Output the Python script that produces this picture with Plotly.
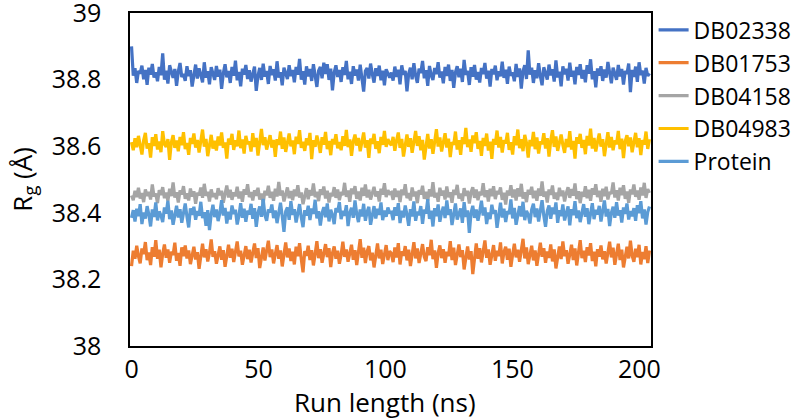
import numpy as np
import plotly.graph_objects as go

names = ["DB02338", "DB01753", "DB04158", "DB04983", "Protein"]
colors = ["#4472C4", "#ED7D31", "#A5A5A5", "#FFC000", "#5B9BD5"]

db02338 = [
38.900, 38.812, 38.834, 38.790, 38.826, 38.818, 38.842, 38.801, 38.829, 38.784,
38.836, 38.815, 38.847, 38.806, 38.822, 38.795, 38.838, 38.813, 38.879, 38.800,
38.827, 38.788, 38.843, 38.819, 38.805, 38.832, 38.781, 38.824, 38.850, 38.808,
38.817, 38.796, 38.840, 38.811, 38.828, 38.779, 38.821, 38.845, 38.803, 38.834,
38.814, 38.792, 38.852, 38.806, 38.825, 38.786, 38.837, 38.816, 38.799, 38.841,
38.809, 38.830, 38.772, 38.819, 38.846, 38.807, 38.826, 38.790, 38.838, 38.812,
38.857, 38.798, 38.823, 38.780, 38.833, 38.815, 38.844, 38.802, 38.828, 38.794,
38.818, 38.839, 38.766, 38.811, 38.835, 38.799, 38.848, 38.809, 38.826, 38.787,
38.841, 38.814, 38.831, 38.797, 38.855, 38.806, 38.822, 38.783, 38.836, 38.817,
38.802, 38.843, 38.811, 38.829, 38.792, 38.838, 38.815, 38.862, 38.800, 38.825,
38.785, 38.840, 38.810, 38.832, 38.796, 38.846, 38.813, 38.778, 38.827, 38.838,
38.804, 38.851, 38.817, 38.846, 38.799, 38.833, 38.768, 38.821, 38.843, 38.808,
38.829, 38.793, 38.837, 38.814, 38.856, 38.801, 38.824, 38.787, 38.840, 38.812,
38.830, 38.797, 38.845, 38.809, 38.764, 38.826, 38.835, 38.803, 38.848, 38.816,
38.791, 38.834, 38.811, 38.842, 38.798, 38.827, 38.783, 38.831, 38.818, 38.806,
38.821, 38.797, 38.839, 38.808, 38.830, 38.786, 38.843, 38.815, 38.826, 38.765,
38.818, 38.836, 38.801, 38.849, 38.812, 38.790, 38.833, 38.820, 38.856, 38.804,
38.828, 38.781, 38.841, 38.813, 38.799, 38.835, 38.817, 38.852, 38.806, 38.824,
38.789, 38.838, 38.811, 38.845, 38.796, 38.829, 38.775, 38.822, 38.840, 38.807,
38.833, 38.793, 38.859, 38.814, 38.826, 38.784, 38.837, 38.809, 38.844, 38.800,
38.823, 38.791, 38.835, 38.817, 38.850, 38.803, 38.827, 38.779, 38.832, 38.816,
38.842, 38.798, 38.825, 38.810, 38.854, 38.805, 38.830, 38.787, 38.839, 38.812,
38.821, 38.795, 38.847, 38.808, 38.834, 38.773, 38.826, 38.843, 38.802, 38.888,
38.815, 38.836, 38.790, 38.828, 38.804, 38.849, 38.811, 38.783, 38.837, 38.819,
38.800, 38.845, 38.813, 38.831, 38.794, 38.858, 38.807, 38.824, 38.780, 38.840,
38.816, 38.833, 38.797, 38.851, 38.809, 38.827, 38.786, 38.838, 38.814, 38.846,
38.803, 38.829, 38.792, 38.843, 38.818, 38.861, 38.801, 38.825, 38.777, 38.834,
38.812, 38.840, 38.796, 38.830, 38.806, 38.853, 38.815, 38.789, 38.836, 38.821,
38.799, 38.844, 38.810, 38.832, 38.785, 38.826, 38.817, 38.848, 38.762, 38.829,
38.808, 38.839, 38.793, 38.852, 38.814, 38.827, 38.788, 38.835, 38.811, 38.819]

db01753 = [
38.240, 38.286, 38.262, 38.301, 38.270, 38.248, 38.293, 38.276, 38.312, 38.258,
38.281, 38.243, 38.297, 38.268, 38.318, 38.262, 38.289, 38.236, 38.277, 38.305,
38.265, 38.290, 38.250, 38.283, 38.273, 38.310, 38.256, 38.279, 38.241, 38.296,
38.270, 38.302, 38.263, 38.287, 38.246, 38.274, 38.298, 38.260, 38.282, 38.232,
38.276, 38.307, 38.266, 38.291, 38.254, 38.280, 38.320, 38.268, 38.285, 38.247,
38.273, 38.299, 38.259, 38.288, 38.238, 38.277, 38.304, 38.265, 38.292, 38.252,
38.281, 38.314, 38.269, 38.286, 38.244, 38.275, 38.300, 38.261, 38.289, 38.251,
38.279, 38.308, 38.264, 38.294, 38.234, 38.272, 38.296, 38.257, 38.284, 38.316,
38.267, 38.290, 38.248, 38.278, 38.303, 38.262, 38.287, 38.239, 38.274, 38.311,
38.266, 38.293, 38.255, 38.283, 38.245, 38.298, 38.270, 38.309, 38.260, 38.221,
38.285, 38.271, 38.301, 38.258, 38.288, 38.242, 38.276, 38.315, 38.264, 38.291,
38.250, 38.281, 38.306, 38.267, 38.294, 38.237, 38.279, 38.299, 38.262, 38.286,
38.247, 38.274, 38.313, 38.268, 38.290, 38.253, 38.282, 38.304, 38.259, 38.288,
38.243, 38.277, 38.321, 38.265, 38.295, 38.249, 38.284, 38.300, 38.257, 38.280,
38.236, 38.272, 38.308, 38.263, 38.289, 38.246, 38.278, 38.303, 38.258, 38.285,
38.278, 38.252, 38.296, 38.266, 38.309, 38.245, 38.284, 38.271, 38.300, 38.257,
38.289, 38.240, 38.275, 38.312, 38.263, 38.293, 38.249, 38.281, 38.306, 38.268,
38.255, 38.297, 38.273, 38.319, 38.261, 38.287, 38.235, 38.279, 38.302, 38.264,
38.291, 38.250, 38.283, 38.270, 38.315, 38.258, 38.295, 38.243, 38.276, 38.305,
38.267, 38.288, 38.230, 38.274, 38.299, 38.260, 38.285, 38.216, 38.272, 38.308,
38.262, 38.294, 38.251, 38.280, 38.317, 38.265, 38.290, 38.244, 38.277, 38.303,
38.256, 38.286, 38.270, 38.311, 38.248, 38.282, 38.298, 38.259, 38.292, 38.238,
38.275, 38.307, 38.266, 38.289, 38.253, 38.283, 38.322, 38.263, 38.296, 38.246,
38.279, 38.301, 38.257, 38.287, 38.241, 38.273, 38.310, 38.268, 38.294, 38.250,
38.284, 38.265, 38.305, 38.254, 38.290, 38.233, 38.276, 38.299, 38.261, 38.314,
38.270, 38.288, 38.247, 38.281, 38.304, 38.258, 38.293, 38.242, 38.278, 38.318,
38.264, 38.286, 38.252, 38.297, 38.272, 38.309, 38.255, 38.283, 38.239, 38.291,
38.268, 38.302, 38.260, 38.285, 38.248, 38.277, 38.313, 38.266, 38.295, 38.244,
38.280, 38.307, 38.258, 38.289, 38.236, 38.274, 38.298, 38.263, 38.316, 38.271,
38.253, 38.292, 38.267, 38.304, 38.245, 38.282, 38.261, 38.300, 38.249, 38.287]

db04158 = [
38.452, 38.438, 38.466, 38.447, 38.475, 38.443, 38.459, 38.432, 38.470, 38.451,
38.463, 38.440, 38.485, 38.449, 38.458, 38.429, 38.468, 38.454, 38.477, 38.444,
38.461, 38.436, 38.472, 38.450, 38.491, 38.446, 38.462, 38.431, 38.467, 38.455,
38.480, 38.442, 38.458, 38.437, 38.473, 38.449, 38.465, 38.427, 38.460, 38.452,
38.476, 38.445, 38.487, 38.451, 38.463, 38.434, 38.470, 38.448, 38.459, 38.441,
38.474, 38.453, 38.466, 38.430, 38.457, 38.482, 38.446, 38.469, 38.439, 38.461,
38.450, 38.478, 38.443, 38.464, 38.433, 38.471, 38.455, 38.486, 38.447, 38.462,
38.437, 38.468, 38.451, 38.475, 38.440, 38.458, 38.428, 38.466, 38.453, 38.481,
38.445, 38.463, 38.436, 38.472, 38.449, 38.493, 38.452, 38.467, 38.434, 38.460,
38.476, 38.444, 38.465, 38.438, 38.470, 38.450, 38.483, 38.446, 38.461, 38.426,
38.456, 38.474, 38.441, 38.468, 38.452, 38.488, 38.447, 38.463, 38.435, 38.471,
38.454, 38.479, 38.443, 38.466, 38.431, 38.459, 38.450, 38.477, 38.445, 38.470,
38.438, 38.462, 38.453, 38.490, 38.448, 38.467, 38.433, 38.473, 38.456, 38.480,
38.442, 38.464, 38.437, 38.475, 38.451, 38.485, 38.446, 38.469, 38.440, 38.461,
38.478, 38.449, 38.465, 38.434, 38.472, 38.455, 38.489, 38.447, 38.468, 38.458,
38.461, 38.439, 38.473, 38.448, 38.466, 38.432, 38.470, 38.453, 38.486, 38.444,
38.459, 38.437, 38.476, 38.450, 38.464, 38.429, 38.468, 38.455, 38.481, 38.442,
38.463, 38.436, 38.471, 38.449, 38.492, 38.446, 38.460, 38.433, 38.475, 38.452,
38.467, 38.440, 38.479, 38.447, 38.462, 38.430, 38.469, 38.454, 38.484, 38.443,
38.458, 38.435, 38.474, 38.451, 38.466, 38.428, 38.461, 38.477, 38.445, 38.470,
38.438, 38.463, 38.453, 38.489, 38.447, 38.468, 38.434, 38.472, 38.450, 38.480,
38.441, 38.465, 38.456, 38.476, 38.439, 38.460, 38.425, 38.467, 38.452, 38.483,
38.446, 38.470, 38.437, 38.474, 38.449, 38.487, 38.443, 38.462, 38.432, 38.469,
38.455, 38.478, 38.444, 38.466, 38.436, 38.473, 38.451, 38.494, 38.448, 38.464,
38.431, 38.470, 38.454, 38.482, 38.442, 38.461, 38.438, 38.475, 38.450, 38.467,
38.434, 38.459, 38.477, 38.445, 38.471, 38.452, 38.488, 38.441, 38.465, 38.429,
38.463, 38.448, 38.480, 38.444, 38.469, 38.436, 38.474, 38.455, 38.486, 38.447,
38.466, 38.433, 38.472, 38.450, 38.478, 38.440, 38.462, 38.457, 38.491, 38.446,
38.468, 38.437, 38.475, 38.453, 38.483, 38.442, 38.464, 38.430, 38.470, 38.456,
38.485, 38.448, 38.467, 38.439, 38.476, 38.452, 38.490, 38.445, 38.471, 38.460]

db04983 = [
38.612, 38.588, 38.624, 38.597, 38.631, 38.604, 38.575, 38.618, 38.640, 38.593,
38.609, 38.566, 38.627, 38.601, 38.636, 38.590, 38.614, 38.582, 38.645, 38.606,
38.598, 38.621, 38.559, 38.612, 38.633, 38.595, 38.617, 38.585, 38.628, 38.603,
38.642, 38.591, 38.610, 38.574, 38.625, 38.607, 38.638, 38.596, 38.619, 38.581,
38.613, 38.650, 38.599, 38.622, 38.570, 38.608, 38.634, 38.593, 38.616, 38.587,
38.629, 38.602, 38.641, 38.595, 38.611, 38.563, 38.623, 38.605, 38.637, 38.589,
38.618, 38.600, 38.647, 38.594, 38.620, 38.578, 38.631, 38.606, 38.614, 38.584,
38.639, 38.598, 38.625, 38.572, 38.615, 38.652, 38.603, 38.627, 38.590, 38.610,
38.633, 38.596, 38.619, 38.568, 38.621, 38.604, 38.644, 38.592, 38.626, 38.583,
38.612, 38.638, 38.600, 38.617, 38.576, 38.629, 38.607, 38.648, 38.595, 38.613,
38.586, 38.624, 38.603, 38.640, 38.561, 38.618, 38.598, 38.632, 38.609, 38.580,
38.627, 38.605, 38.643, 38.591, 38.616, 38.573, 38.622, 38.606, 38.636, 38.594,
38.612, 38.588, 38.630, 38.601, 38.649, 38.597, 38.620, 38.571, 38.614, 38.635,
38.602, 38.625, 38.585, 38.611, 38.641, 38.596, 38.618, 38.565, 38.623, 38.607,
38.637, 38.592, 38.615, 38.579, 38.628, 38.604, 38.646, 38.598, 38.621, 38.609,
38.603, 38.628, 38.586, 38.617, 38.641, 38.595, 38.622, 38.569, 38.611, 38.635,
38.598, 38.624, 38.580, 38.613, 38.646, 38.601, 38.630, 38.588, 38.619, 38.560,
38.607, 38.637, 38.593, 38.621, 38.577, 38.615, 38.651, 38.599, 38.626, 38.584,
38.610, 38.639, 38.596, 38.623, 38.567, 38.612, 38.604, 38.644, 38.590, 38.618,
38.574, 38.627, 38.606, 38.655, 38.597, 38.620, 38.583, 38.632, 38.609, 38.642,
38.592, 38.616, 38.571, 38.625, 38.601, 38.638, 38.587, 38.614, 38.562, 38.622,
38.605, 38.647, 38.596, 38.628, 38.581, 38.618, 38.608, 38.640, 38.589, 38.612,
38.575, 38.630, 38.603, 38.650, 38.594, 38.621, 38.585, 38.634, 38.610, 38.566,
38.619, 38.600, 38.643, 38.591, 38.626, 38.578, 38.614, 38.606, 38.639, 38.593,
38.624, 38.569, 38.617, 38.648, 38.598, 38.629, 38.586, 38.611, 38.635, 38.604,
38.580, 38.622, 38.597, 38.645, 38.590, 38.616, 38.563, 38.627, 38.608, 38.637,
38.595, 38.619, 38.576, 38.631, 38.602, 38.653, 38.593, 38.625, 38.584, 38.613,
38.638, 38.599, 38.621, 38.570, 38.610, 38.642, 38.596, 38.628, 38.588, 38.617,
38.606, 38.646, 38.591, 38.623, 38.564, 38.615, 38.633, 38.600, 38.626, 38.582,
38.612, 38.640, 38.597, 38.624, 38.573, 38.618, 38.605, 38.644, 38.592, 38.621]

protein = [
38.385, 38.408, 38.374, 38.412, 38.390, 38.426, 38.366, 38.401, 38.383, 38.420,
38.395, 38.359, 38.410, 38.388, 38.431, 38.377, 38.404, 38.392, 38.372, 38.416,
38.398, 38.436, 38.381, 38.407, 38.364, 38.399, 38.421, 38.386, 38.411, 38.370,
38.403, 38.428, 38.389, 38.356, 38.413, 38.394, 38.418, 38.379, 38.405, 38.391,
38.433, 38.384, 38.402, 38.361, 38.408, 38.348, 38.396, 38.424, 38.387, 38.410,
38.375, 38.400, 38.438, 38.392, 38.415, 38.368, 38.403, 38.380, 38.422, 38.397,
38.409, 38.365, 38.391, 38.429, 38.385, 38.412, 38.373, 38.406, 38.395, 38.427,
38.382, 38.414, 38.358, 38.399, 38.419, 38.388, 38.442, 38.393, 38.376, 38.410,
38.401, 38.425, 38.384, 38.407, 38.369, 38.398, 38.430, 38.390, 38.343, 38.404,
38.416, 38.379, 38.435, 38.394, 38.411, 38.371, 38.400, 38.426, 38.386, 38.357,
38.408, 38.392, 38.421, 38.378, 38.413, 38.397, 38.439, 38.383, 38.405, 38.362,
38.399, 38.417, 38.387, 38.428, 38.374, 38.409, 38.393, 38.366, 38.414, 38.402,
38.432, 38.381, 38.406, 38.391, 38.423, 38.360, 38.400, 38.415, 38.385, 38.437,
38.396, 38.372, 38.410, 38.389, 38.427, 38.376, 38.403, 38.418, 38.364, 38.398,
38.420, 38.383, 38.412, 38.394, 38.431, 38.378, 38.407, 38.388, 38.416, 38.401,
38.402, 38.378, 38.417, 38.391, 38.429, 38.369, 38.406, 38.386, 38.422, 38.395,
38.361, 38.411, 38.389, 38.434, 38.376, 38.403, 38.393, 38.420, 38.367, 38.409,
38.398, 38.441, 38.382, 38.406, 38.359, 38.414, 38.390, 38.425, 38.373, 38.400,
38.418, 38.384, 38.437, 38.394, 38.411, 38.363, 38.404, 38.428, 38.380, 38.396,
38.413, 38.370, 38.432, 38.388, 38.407, 38.340, 38.399, 38.421, 38.385, 38.410,
38.376, 38.403, 38.436, 38.392, 38.416, 38.366, 38.401, 38.381, 38.424, 38.397,
38.408, 38.355, 38.393, 38.430, 38.386, 38.412, 38.372, 38.405, 38.396, 38.440,
38.383, 38.415, 38.364, 38.399, 38.420, 38.389, 38.433, 38.378, 38.406, 38.394,
38.368, 38.410, 38.427, 38.387, 38.413, 38.374, 38.402, 38.438, 38.391, 38.358,
38.405, 38.422, 38.382, 38.416, 38.396, 38.431, 38.370, 38.408, 38.390, 38.425,
38.377, 38.400, 38.419, 38.362, 38.411, 38.393, 38.435, 38.384, 38.407, 38.372,
38.398, 38.426, 38.388, 38.414, 38.366, 38.403, 38.429, 38.381, 38.409, 38.395,
38.421, 38.374, 38.404, 38.437, 38.389, 38.412, 38.360, 38.400, 38.418, 38.385,
38.432, 38.392, 38.408, 38.371, 38.416, 38.397, 38.428, 38.380, 38.405, 38.390,
38.414, 38.376, 38.423, 38.399, 38.435, 38.383, 38.410, 38.365, 38.402, 38.419]

series = [db02338, db01753, db04158, db04983, protein]
time_ns = np.linspace(0, 204, len(db02338))

x_ticks = [0, 50, 100, 150, 200]
y_ticks = [38, 38.2, 38.4, 38.6, 38.8, 39]

FONT = "Open Sans"
fig = go.Figure()
for name, ys, c in zip(names, series, colors):
    fig.add_trace(go.Scatter(x=time_ns, y=ys, mode="lines", name=name,
                             legendgroup=name,
                             line=dict(color=c, width=3.2)))

fig.update_layout(
    width=792, height=420,
    margin=dict(l=130, r=141, t=13, b=74, autoexpand=False),
    paper_bgcolor="white", plot_bgcolor="white",
    font=dict(family=FONT, color="#000000"),
    showlegend=True,
    legend=dict(x=1.005, xanchor="left", y=1.014, yanchor="top",
                font=dict(size=23, family=FONT), tracegroupgap=0,
                bgcolor="rgba(0,0,0,0)"),
    xaxis=dict(range=[-0.6, 204.6], tickvals=x_ticks, showgrid=False,
               zeroline=False, showline=True, linecolor="black", linewidth=1.5,
               mirror=True, ticks="", tickfont=dict(size=25),
               ticklabelstandoff=0, ticklabeloverflow="allow", automargin=False),
    yaxis=dict(range=[38, 39], tickvals=y_ticks, showgrid=False,
               zeroline=False, showline=True, linecolor="black", linewidth=1.5,
               mirror=True, ticks="", tickfont=dict(size=25),
               ticklabelstandoff=22, ticklabeloverflow="allow", automargin=False),
    annotations=[
        dict(text="Run length (ns)", xref="paper", yref="paper",
             x=0.49, y=-0.168, xanchor="center", yanchor="middle",
             showarrow=False, font=dict(size=26, family=FONT)),
        dict(text="R<sub>g</sub> (Å)", xref="paper", yref="paper",
             x=-0.207, y=0.5, xanchor="center", yanchor="middle",
             textangle=-90, showarrow=False, font=dict(size=26, family=FONT)),
    ],
)

fig.write_html("out.html", config={"displayModeBar": False},
               post_script="document.body.style.margin='0';")
